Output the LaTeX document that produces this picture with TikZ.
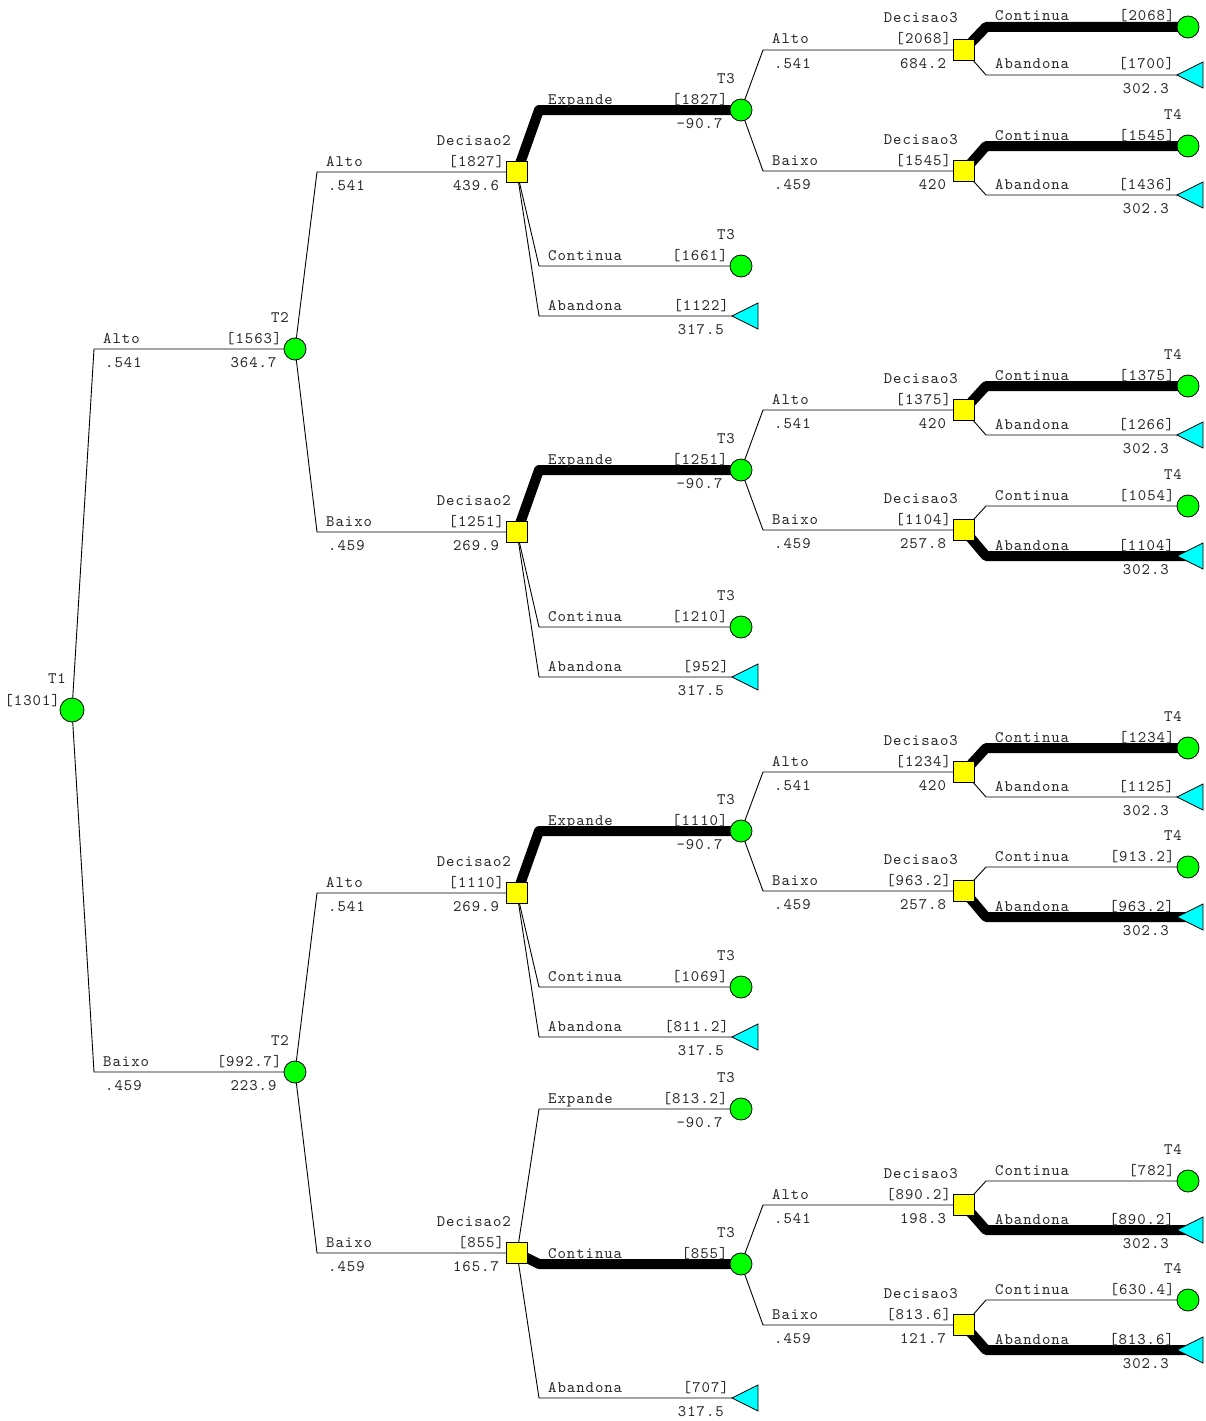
\documentclass[tikz,border=0pt]{standalone}
\usepackage{fontspec}
\usetikzlibrary{calc,shapes.geometric}
\newfontfamily\lblfont{lmmono10-regular}[Extension=.otf,LetterSpace=6]
\definecolor{chancefill}{RGB}{0,255,0}
\definecolor{decfill}{RGB}{255,255,0}
\definecolor{endfill}{RGB}{0,255,255}
\pgfdeclarelayer{edges}
\pgfsetlayers{edges,main}
\tikzset{
  lbl/.style={font=\lblfont\fontsize{16}{19}\selectfont, inner sep=0pt, text=black!85},
  chance/.style={circle, draw=black, line width=0.8pt, fill=chancefill, minimum size=22pt, inner sep=0pt},
  decis/.style={rectangle, draw=black, line width=0.8pt, fill=decfill, minimum size=21pt, inner sep=0pt},
  term/.style={isosceles triangle, isosceles triangle stretches, shape border rotate=180,
    draw=black, line width=0.8pt, fill=endfill, minimum width=26pt, minimum height=26pt,
    inner sep=0pt, anchor=apex},
  twig/.style={line width=0.9pt, draw=black},
  best/.style={line width=10pt, draw=black, line join=round, yshift=-1pt},
}
% branch: [style]{parent}{child}{name}{probability}{value}{payoff}
\newcommand\br[7][twig]{%
  \begin{pgfonlayer}{edges}
    \draw[#1] (#2.center) -- ($(#2.center |- #3.center)+(22,0)$) coordinate (#3-k) -- (#3.center);
  \end{pgfonlayer}
  \node[lbl, anchor=base west] at ($(#3-k)+(9,-6)$) {#4};
  \node[lbl, anchor=base west] at ($(#3-k)+(11,18)$) {#5};
  \node[lbl, anchor=base east] at ($(#3.west)+(-2,-6)$) {#6};
  \node[lbl, anchor=base east] at ($(#3.west)+(-7,18)$) {#7};
}
% caption above a node
\newcommand\nodecap[2]{\node[lbl, anchor=base east] at ($(#1.center)+(-6,-27)$) {#2};}
\begin{document}
\begin{tikzpicture}[x=1pt, y=-1pt]
\useasboundingbox (0,0) rectangle (1205,1421);

% ---- nodes ----
\node[chance, minimum size=24pt] (t1) at (72,710) {};
\node[chance] (t2a) at (295,349) {};
\node[chance] (t2b) at (295,1072) {};

\node[decis] (d2aa) at (517,172) {};
\node[decis] (d2ab) at (517,532) {};
\node[decis] (d2ba) at (517,893) {};
\node[decis] (d2bb) at (517,1253) {};

\node[chance] (t3aa) at (741,110) {};
\node[chance] (caa)  at (741,266) {};
\node[term]   (xaa)  at (731,316) {};
\node[chance] (t3ab) at (741,470) {};
\node[chance] (cab)  at (741,627) {};
\node[term]   (xab)  at (731,677) {};
\node[chance] (t3ba) at (741,831) {};
\node[chance] (cba)  at (741,987) {};
\node[term]   (xba)  at (731,1037) {};
\node[chance] (ebb)  at (741,1109) {};
\node[chance] (t3bb) at (741,1264) {};
\node[term]   (xbb)  at (731,1398) {};

\node[decis] (d3a) at (964,50) {};
\node[decis] (d3b) at (964,171) {};
\node[decis] (d3c) at (964,410) {};
\node[decis] (d3d) at (964,530) {};
\node[decis] (d3e) at (964,772) {};
\node[decis] (d3f) at (964,891) {};
\node[decis] (d3g) at (964,1205) {};
\node[decis] (d3h) at (964,1325) {};

\node[chance] (ca) at (1188,27) {};   \node[term] (xa) at (1176,75) {};
\node[chance] (cb) at (1188,146) {};  \node[term] (xb) at (1176,195) {};
\node[chance] (cc) at (1188,386) {};  \node[term] (xc) at (1176,435) {};
\node[chance] (cd) at (1188,506) {};  \node[term] (xd) at (1176,556) {};
\node[chance] (ce) at (1188,748) {};  \node[term] (xe) at (1176,797) {};
\node[chance] (cf) at (1188,867) {};  \node[term] (xf) at (1176,917) {};
\node[chance] (cg) at (1188,1181) {}; \node[term] (xg) at (1176,1230) {};
\node[chance] (ch) at (1188,1300) {}; \node[term] (xh) at (1176,1350) {};

% ---- node captions ----
\nodecap{t1}{T1}
\node[lbl, anchor=base east] at ($(t1.center)+(-12,-5)$) {[1301]};
\nodecap{t2a}{T2} \nodecap{t2b}{T2}
\foreach \n in {d2aa,d2ab,d2ba,d2bb} {\nodecap{\n}{Decisao2}}
\foreach \n in {t3aa,caa,t3ab,cab,t3ba,cba,ebb,t3bb} {\nodecap{\n}{T3}}
\foreach \n in {d3a,d3b,d3c,d3d,d3e,d3f,d3g,d3h} {\nodecap{\n}{Decisao3}}
\foreach \n in {cb,cc,cd,ce,cf,cg,ch} {\nodecap{\n}{T4}}

% ---- branches ----
\br{t1}{t2a}{Alto}{.541}{[1563]}{364.7}
\br{t1}{t2b}{Baixo}{.459}{[992.7]}{223.9}

\br{t2a}{d2aa}{Alto}{.541}{[1827]}{439.6}
\br{t2a}{d2ab}{Baixo}{.459}{[1251]}{269.9}
\br{t2b}{d2ba}{Alto}{.541}{[1110]}{269.9}
\br{t2b}{d2bb}{Baixo}{.459}{[855]}{165.7}

\br[best]{d2aa}{t3aa}{Expande}{}{[1827]}{-90.7}
\br{d2aa}{caa}{Continua}{}{[1661]}{}
\br{d2aa}{xaa}{Abandona}{}{[1122]}{317.5}
\br[best]{d2ab}{t3ab}{Expande}{}{[1251]}{-90.7}
\br{d2ab}{cab}{Continua}{}{[1210]}{}
\br{d2ab}{xab}{Abandona}{}{[952]}{317.5}
\br[best]{d2ba}{t3ba}{Expande}{}{[1110]}{-90.7}
\br{d2ba}{cba}{Continua}{}{[1069]}{}
\br{d2ba}{xba}{Abandona}{}{[811.2]}{317.5}
\br{d2bb}{ebb}{Expande}{}{[813.2]}{-90.7}
\br[best]{d2bb}{t3bb}{Continua}{}{[855]}{}
\br{d2bb}{xbb}{Abandona}{}{[707]}{317.5}

\br{t3aa}{d3a}{Alto}{.541}{[2068]}{684.2}
\br{t3aa}{d3b}{Baixo}{.459}{[1545]}{420}
\br{t3ab}{d3c}{Alto}{.541}{[1375]}{420}
\br{t3ab}{d3d}{Baixo}{.459}{[1104]}{257.8}
\br{t3ba}{d3e}{Alto}{.541}{[1234]}{420}
\br{t3ba}{d3f}{Baixo}{.459}{[963.2]}{257.8}
\br{t3bb}{d3g}{Alto}{.541}{[890.2]}{198.3}
\br{t3bb}{d3h}{Baixo}{.459}{[813.6]}{121.7}

\br[best]{d3a}{ca}{Continua}{}{[2068]}{}
\br{d3a}{xa}{Abandona}{}{[1700]}{302.3}
\br[best]{d3b}{cb}{Continua}{}{[1545]}{}
\br{d3b}{xb}{Abandona}{}{[1436]}{302.3}
\br[best]{d3c}{cc}{Continua}{}{[1375]}{}
\br{d3c}{xc}{Abandona}{}{[1266]}{302.3}
\br{d3d}{cd}{Continua}{}{[1054]}{}
\br[best]{d3d}{xd}{Abandona}{}{[1104]}{302.3}
\br[best]{d3e}{ce}{Continua}{}{[1234]}{}
\br{d3e}{xe}{Abandona}{}{[1125]}{302.3}
\br{d3f}{cf}{Continua}{}{[913.2]}{}
\br[best]{d3f}{xf}{Abandona}{}{[963.2]}{302.3}
\br{d3g}{cg}{Continua}{}{[782]}{}
\br[best]{d3g}{xg}{Abandona}{}{[890.2]}{302.3}
\br{d3h}{ch}{Continua}{}{[630.4]}{}
\br[best]{d3h}{xh}{Abandona}{}{[813.6]}{302.3}
\end{tikzpicture}
\end{document}
